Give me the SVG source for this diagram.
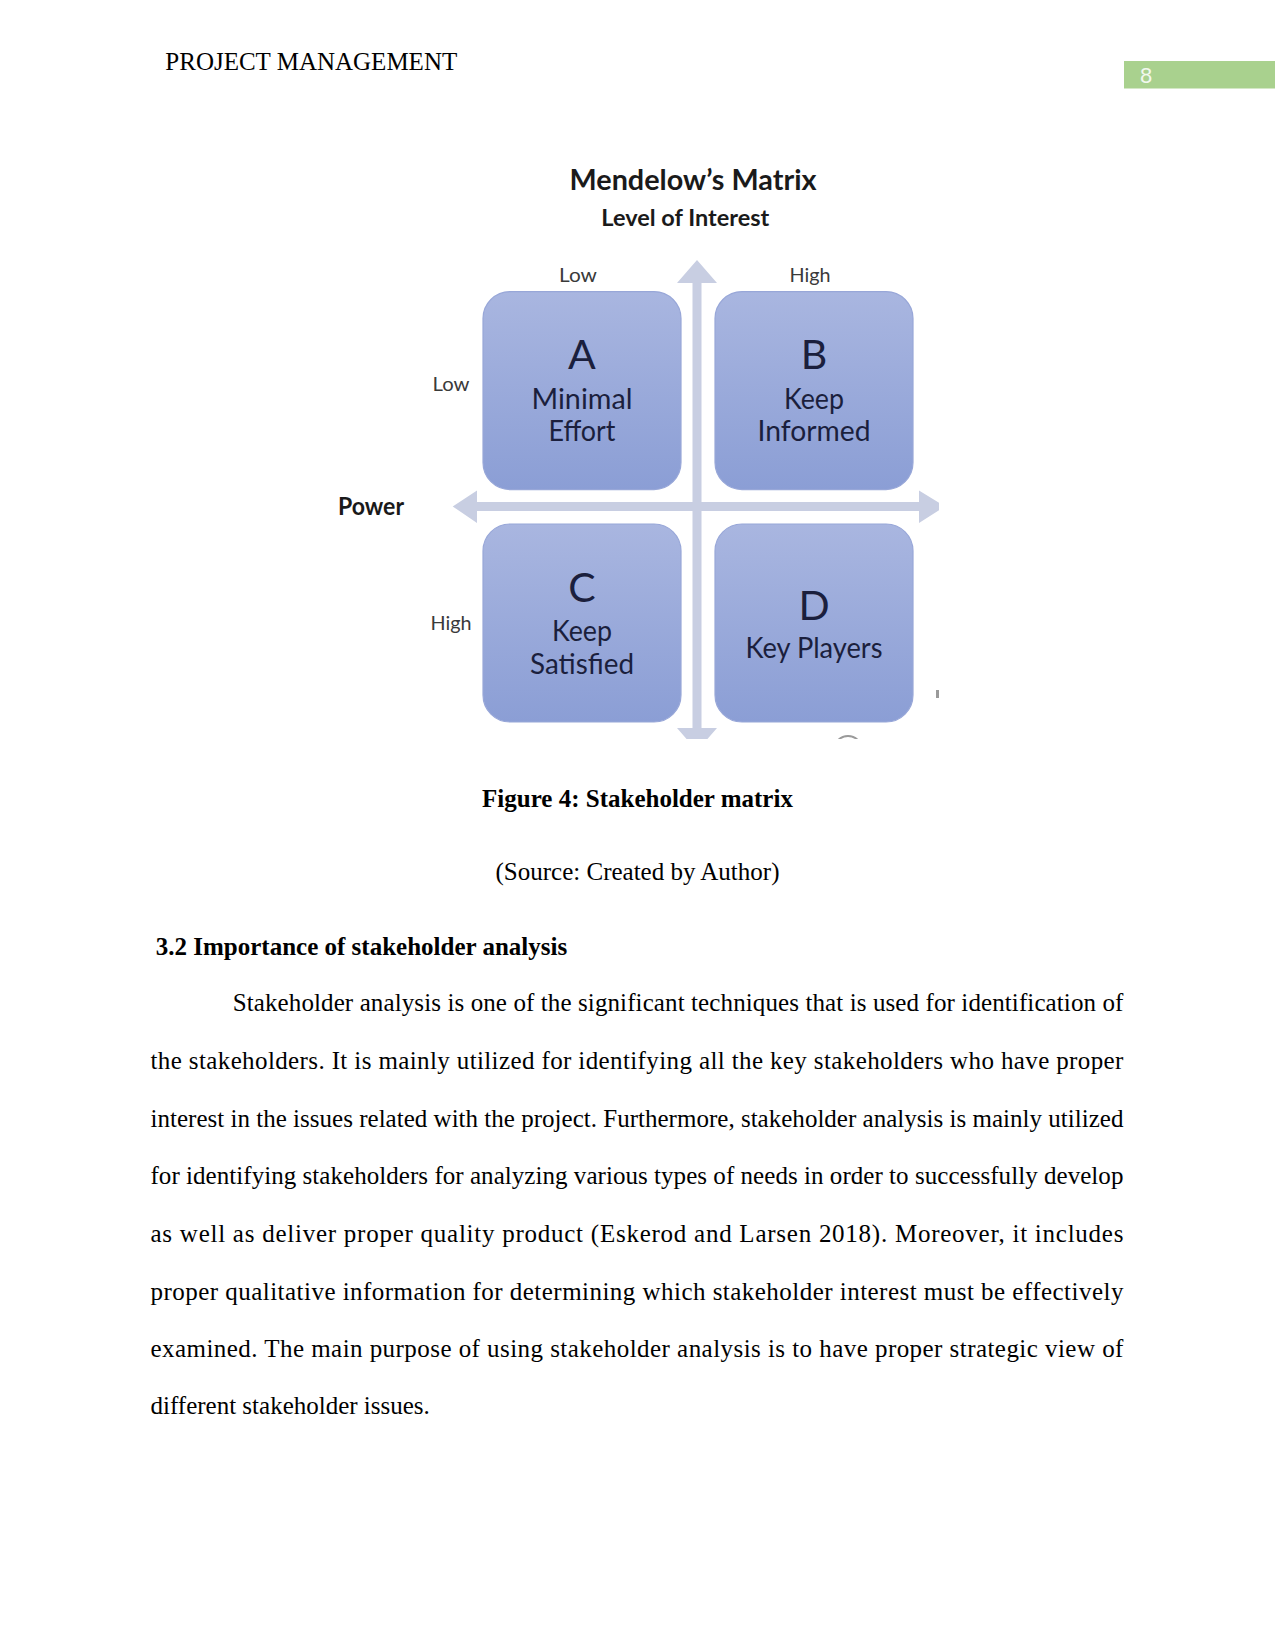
<svg xmlns="http://www.w3.org/2000/svg" width="1275" height="1651" viewBox="0 0 1275 1651">
<defs>
<linearGradient id="boxGrad" x1="0" y1="0" x2="0" y2="1">
<stop offset="0" stop-color="#a9b6e0"/>
<stop offset="1" stop-color="#8b9ed5"/>
</linearGradient>
<clipPath id="figClip"><rect x="300" y="150" width="639" height="589"/></clipPath>
<style>
.body{font-family:"Liberation Serif","Times New Roman",serif;font-size:25px;fill:#000}
.bold{font-weight:bold}
.fig{font-family:Lato,"Open Sans","Liberation Sans",sans-serif}
.lbl{font-size:20px;fill:#3a3a3a}
.big{font-size:41px;fill:#1b1f3d}
.mid{font-size:28.5px;fill:#1b1f3d}
.box{fill:url(#boxGrad);stroke:#98a7d8;stroke-width:1.2}
.axis{fill:#c8cee2}
</style>
</defs>
<rect width="1275" height="1651" fill="#fff"/>

<g id="header">
<text class="body" x="165.3" y="69.5">PROJECT MANAGEMENT</text>
<rect x="1124" y="61" width="151" height="27.5" fill="#a9d18e"/>
<text x="1140" y="83" font-family="Liberation Sans Narrow,Liberation Sans,sans-serif" font-size="22" fill="#f2f8ee">8</text>
</g>

<g id="figure" clip-path="url(#figClip)">
<g id="connectors">
<path class="axis" d="M697,260 L717,283 L701.5,283 L701.5,728 L717,728 L697,751 L677,728 L692.5,728 L692.5,283 L677,283 Z"/>
<path class="axis" d="M452.7,506.4 L477,490.6 L477,502 L919,502 L919,490.6 L945,506.4 L919,523 L919,511 L477,511 L477,523 Z"/>
</g>

<text class="fig" x="693" y="189.5" text-anchor="middle" font-size="28" font-weight="bold" fill="#1a1a1a" textLength="247" lengthAdjust="spacingAndGlyphs">Mendelow’s Matrix</text>
<text class="fig" x="685.3" y="226" text-anchor="middle" font-size="23.5" font-weight="bold" fill="#1a1a1a" textLength="168" lengthAdjust="spacingAndGlyphs">Level of Interest</text>
<text class="fig lbl" x="578" y="282" text-anchor="middle" textLength="38" lengthAdjust="spacingAndGlyphs">Low</text>
<text class="fig lbl" x="810" y="282" text-anchor="middle" textLength="41" lengthAdjust="spacingAndGlyphs">High</text>
<text class="fig lbl" x="451" y="390.6" text-anchor="middle" textLength="37" lengthAdjust="spacingAndGlyphs">Low</text>
<text class="fig" x="371" y="514.8" text-anchor="middle" font-size="24.5" font-weight="bold" fill="#1a1a1a" textLength="66" lengthAdjust="spacingAndGlyphs">Power</text>
<text class="fig lbl" x="451" y="629.6" text-anchor="middle" textLength="41" lengthAdjust="spacingAndGlyphs">High</text>

<g id="quadrant-a">
<rect class="box" x="483" y="291.6" width="198" height="198" rx="27"/>
<text class="fig big" x="582" y="368.5" text-anchor="middle">A</text>
<text class="fig mid" x="582" y="408.5" text-anchor="middle" textLength="101" lengthAdjust="spacingAndGlyphs">Minimal</text>
<text class="fig mid" x="582" y="441" text-anchor="middle" textLength="67" lengthAdjust="spacingAndGlyphs">Effort</text>
</g>
<g id="quadrant-b">
<rect class="box" x="715" y="291.6" width="198" height="198" rx="27"/>
<text class="fig big" x="814" y="368.5" text-anchor="middle">B</text>
<text class="fig mid" x="814" y="408.5" text-anchor="middle" textLength="60" lengthAdjust="spacingAndGlyphs">Keep</text>
<text class="fig mid" x="814" y="441" text-anchor="middle" textLength="113" lengthAdjust="spacingAndGlyphs">Informed</text>
</g>
<g id="quadrant-c">
<rect class="box" x="483" y="524" width="198" height="198" rx="27"/>
<text class="fig big" x="582" y="602" text-anchor="middle">C</text>
<text class="fig mid" x="582" y="641" text-anchor="middle" textLength="60" lengthAdjust="spacingAndGlyphs">Keep</text>
<text class="fig mid" x="582" y="674" text-anchor="middle" textLength="104" lengthAdjust="spacingAndGlyphs">Satisfied</text>
</g>
<g id="quadrant-d">
<rect class="box" x="715" y="524" width="198" height="198" rx="27"/>
<text class="fig big" x="814" y="620" text-anchor="middle">D</text>
<text class="fig mid" x="814" y="658" text-anchor="middle" textLength="137" lengthAdjust="spacingAndGlyphs">Key Players</text>
</g>
<circle cx="848" cy="750" r="14" fill="none" stroke="#9a9a9a" stroke-width="2"/>
<rect x="936" y="690" width="3" height="8" fill="#9a9a9a"/>
</g>

<g id="caption">
<text class="body bold" x="637.5" y="806.5" text-anchor="middle">Figure 4: Stakeholder matrix</text>
<text class="body" x="637.5" y="880" text-anchor="middle">(Source: Created by Author)</text>
</g>

<g id="section">
<text class="body bold" x="155.8" y="955">3.2 Importance of stakeholder analysis</text>
<text class="body" x="232.7" y="1010.7" textLength="890.7" lengthAdjust="spacing">Stakeholder analysis is one of the significant techniques that is used for identification of</text>
<text class="body" x="150.5" y="1068.6" textLength="972.9" lengthAdjust="spacing">the stakeholders. It is mainly utilized for identifying all the key stakeholders who have proper</text>
<text class="body" x="150.5" y="1126.5" textLength="972.9" lengthAdjust="spacing">interest in the issues related with the project. Furthermore, stakeholder analysis is mainly utilized</text>
<text class="body" x="150.5" y="1184.3" textLength="972.9" lengthAdjust="spacing">for identifying stakeholders for analyzing various types of needs in order to successfully develop</text>
<text class="body" x="150.5" y="1241.8" textLength="972.9" lengthAdjust="spacing">as well as deliver proper quality product (Eskerod and Larsen 2018). Moreover, it includes</text>
<text class="body" x="150.5" y="1299.5" textLength="972.9" lengthAdjust="spacing">proper qualitative information for determining which stakeholder interest must be effectively</text>
<text class="body" x="150.5" y="1356.6" textLength="972.9" lengthAdjust="spacing">examined. The main purpose of using stakeholder analysis is to have proper strategic view of</text>
<text class="body" x="150.5" y="1414">different stakeholder issues.</text>
</g>
</svg>
